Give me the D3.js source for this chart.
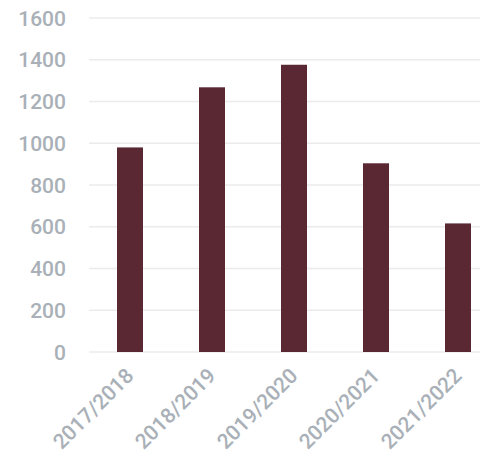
<!DOCTYPE html>
<html>
<head>
<meta charset="utf-8">
<script src="https://cdn.jsdelivr.net/npm/d3@7.9.0/dist/d3.min.js"></script>
<style>
  body { margin: 0; background: #fff; }
  text { font-family: Roboto, sans-serif; font-weight: 500; fill: #a9b0b7; }
</style>
</head>
<body>
<svg width="481" height="458"></svg>
<script>
const seasons = ['2017/2018', '2018/2019', '2019/2020', '2020/2021', '2021/2022'];
const counts = [980, 1268, 1376, 904, 616];
const yTicks = [0, 200, 400, 600, 800, 1000, 1200, 1400, 1600];

const svg = d3.select('svg');

const x = d3.scaleBand()
    .domain(seasons)
    .range([89, 499])
    .paddingInner(0.683)
    .paddingOuter(0.3415);

const y = d3.scaleLinear().domain([0, 1600]).range([352, 18]);

// grid lines
svg.append('g')
    .selectAll('line')
    .data(yTicks)
    .join('line')
    .attr('x1', 89)
    .attr('x2', 480)
    .attr('y1', d => y(d))
    .attr('y2', d => y(d))
    .attr('stroke', '#ebebeb')
    .attr('stroke-width', 1.5);

// y labels
svg.append('g')
    .selectAll('text')
    .data(yTicks)
    .join('text')
    .attr('x', 66)
    .attr('y', d => y(d))
    .attr('dy', '0.36em')
    .attr('text-anchor', 'end')
    .attr('font-size', 21)
    .text(d => d);

// bars
svg.append('g')
    .selectAll('rect')
    .data(counts)
    .join('rect')
    .attr('x', (d, i) => x(seasons[i]))
    .attr('width', x.bandwidth())
    .attr('y', d => y(d))
    .attr('height', d => y(0) - y(d))
    .attr('fill', '#5a2832');

// x labels
svg.append('g')
    .selectAll('text')
    .data(seasons)
    .join('text')
    .attr('text-anchor', 'end')
    .attr('font-size', 21)
    .attr('transform', d => `translate(${x(d) + x.bandwidth() / 2 + 5},${377}) rotate(-45)`)
    .text(d => d);
</script>
</body>
</html>
